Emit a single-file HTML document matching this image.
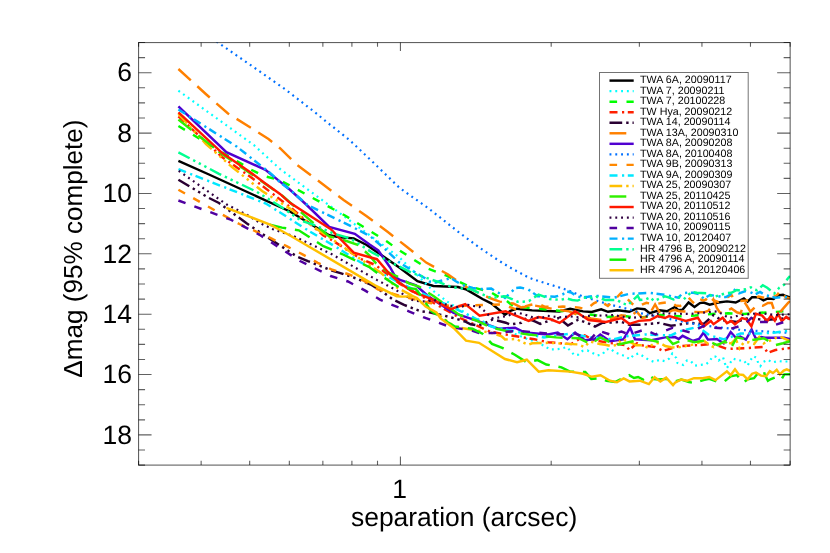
<!DOCTYPE html>
<html><head><meta charset="utf-8"><title>contrast curves</title>
<style>html,body{margin:0;padding:0;background:#fff;}svg{display:block;font-family:"Liberation Sans",sans-serif;will-change:transform;-webkit-font-smoothing:antialiased;}text{text-rendering:geometricPrecision;}</style></head>
<body>
<svg width="830" height="553" viewBox="0 0 830 553">
<rect x="0" y="0" width="830" height="553" fill="#fff"/>
<defs><clipPath id="c"><rect x="138.55" y="42.55" width="651.5999999999999" height="422.55"/></clipPath></defs>
<g clip-path="url(#c)" fill="none" stroke-linejoin="miter" stroke-miterlimit="6" stroke-linecap="butt" stroke-width="2.45">
<path d="M178.4 160.9 L209.0 174.5 L280.0 207.0 L290.0 211.5 L329.2 235.3 L340.0 237.3 L353.7 238.4 L366.7 245.0 L400.0 267.9 L417.5 281.2 L433.4 286.0 L458.0 287.0 L466.6 289.6 L482.5 299.0 L491.2 303.4 L505.0 314.7 L510.4 310.9 L516.9 308.7 L532.1 310.4 L559.2 311.4 L570.1 308.7 L583.1 311.4 L591.7 312.0 L601.2 309.3 L608.0 311.8 L617.7 310.3 L629.3 311.8 L637.0 308.4 L644.7 309.3 L649.7 313.2 L659.3 310.3 L667.0 311.3 L675.0 306.9 L678.3 310.1 L682.6 309.6 L688.6 302.5 L694.5 306.9 L699.9 303.1 L703.7 302.5 L709.7 304.7 L718.4 302.5 L727.0 301.4 L735.7 302.5 L743.9 298.5 L747.6 301.7 L752.1 297.2 L758.4 297.2 L763.5 300.4 L767.9 298.5 L773.6 299.1 L778.0 295.3 L783.0 294.7 L785.6 296.0 L790.0 297.3" stroke="#000000"/>
<path d="M178.4 90.7 L254.0 145.2 L280.0 169.0 L323.4 201.0 L381.2 243.8 L400.0 258.0 L433.4 291.0 L447.8 302.0 L471.0 316.4 L482.5 321.0 L491.4 326.7 L500.0 329.0 L509.0 331.8 L518.0 335.2 L523.4 337.3 L528.3 339.5 L534.3 341.1 L544.6 346.0 L549.5 349.3 L555.4 349.3 L560.8 348.7 L566.8 347.1 L570.6 350.9 L574.4 355.2 L578.2 354.7 L582.5 350.9 L587.4 350.4 L592.5 352.9 L597.6 355.4 L602.7 354.2 L605.8 349.7 L610.3 348.5 L614.7 352.3 L619.7 354.2 L624.8 356.1 L629.9 359.2 L633.7 354.8 L638.7 353.5 L643.8 356.7 L648.9 359.9 L653.9 361.8 L659.6 359.9 L664.7 361.1 L669.1 358.6 L672.3 353.5 L676.3 358.0 L677.5 363.0 L683.2 364.9 L687.0 360.5 L690.8 361.1 L694.6 365.6 L700.3 364.9 L706.0 364.3 L709.8 361.1 L712.3 356.7 L715.5 356.7 L718.7 360.5 L723.1 357.3 L725.0 363.7 L726.9 368.1 L730.1 363.0 L733.2 358.6 L738.2 360.5 L743.9 360.5 L747.6 365.5 L750.2 360.5 L753.3 356.0 L756.5 357.9 L758.4 363.6 L760.3 366.2 L763.5 361.7 L767.9 359.8 L772.3 362.4 L778.0 361.1 L782.4 361.5 L790.0 361.5" stroke="#00ffff" stroke-width="2.2" stroke-dasharray="1.9 3.9"/>
<path d="M178.4 126.0 L215.0 148.0 L251.0 169.6 L264.0 176.0 L280.0 180.2 L345.0 215.5 L387.0 241.5 L395.8 248.0 L427.6 268.5 L445.0 275.0 L468.0 286.0 L475.4 288.0 L483.6 290.2 L491.2 292.4 L500.9 298.3 L506.3 300.5 L512.9 306.0 L530.0 308.0 L562.0 311.0 L575.0 313.0 L594.0 315.0 L606.0 317.0 L625.0 316.0 L637.0 318.0 L660.0 315.0 L680.0 316.3 L695.0 315.5 L712.0 314.0 L728.0 313.3 L744.0 313.9 L760.0 312.8 L790.0 311.0" stroke="#00ff00" stroke-dasharray="7.6 9.4"/>
<path d="M178.4 116.4 L222.0 157.0 L252.0 178.0 L290.0 207.0 L323.4 235.4 L333.5 241.1 L361.0 259.0 L375.4 265.0 L400.0 284.0 L432.0 302.0 L460.0 318.0 L490.0 331.6 L505.5 334.5 L534.5 339.3 L548.0 342.2 L571.2 344.1 L584.8 335.4 L594.4 340.3 L610.0 343.0 L625.4 345.1 L629.3 350.0 L637.0 343.2 L640.0 345.1 L655.0 347.0 L663.2 350.9 L678.7 346.1 L698.0 345.1 L713.5 344.0 L727.0 349.0 L748.3 348.0 L763.8 347.0 L767.7 352.8 L775.4 350.0 L790.0 348.0" stroke="#ff2000" stroke-dasharray="8 4.5 2.2 3.6"/>
<path d="M178.4 179.7 L209.0 198.0 L219.0 203.0 L246.6 223.3 L262.5 234.1 L277.0 243.5 L290.0 252.0 L296.5 256.3 L307.9 261.1 L332.8 270.9 L340.4 273.1 L357.8 279.0 L370.8 284.5 L383.6 292.6 L392.6 299.3 L403.5 304.7 L420.2 311.1 L429.2 312.4 L442.9 315.3 L454.8 318.4 L465.0 321.5 L470.6 324.3 L478.0 325.5 L485.0 323.0 L492.8 319.5 L505.8 322.7 L509.9 324.5 L521.3 322.8 L526.1 318.0 L535.4 321.7 L540.2 323.9 L546.7 321.7 L558.7 318.0 L567.9 325.5 L572.8 322.8 L578.2 319.6 L589.6 323.9 L595.0 326.6 L602.2 322.9 L621.5 321.9 L629.3 324.8 L640.0 324.8 L659.3 322.9 L671.0 325.8 L690.3 322.9 L703.8 323.8 L713.5 315.1 L721.2 320.0 L736.7 321.9 L748.3 318.0 L765.0 320.0 L790.0 318.0" stroke="#2a0033" stroke-dasharray="12.7 4.0 2.4 3.9 2.4 3.9 2.4 4.0"/>
<path d="M178.4 69.0 L206.9 95.0 L228.0 113.5 L248.0 126.0 L268.5 139.0 L280.0 148.2 L297.3 165.0 L343.6 200.0 L366.7 216.2 L387.2 231.5 L406.7 246.7 L426.2 262.6 L447.8 274.2 L465.2 286.5 L489.8 298.0 L499.7 301.6 L513.2 303.5 L521.0 307.4 L534.5 305.5 L553.8 309.0 L569.0 311.4 L574.4 313.6 L582.0 316.0 L591.0 318.5 L606.3 320.7 L614.0 318.0 L621.4 315.2 L630.1 316.9 L636.6 311.4 L642.0 318.0 L647.0 317.0 L650.7 312.0 L655.1 304.4 L659.4 312.0 L669.2 312.0 L672.4 310.4 L675.0 310.1 L679.3 311.2 L688.0 311.7 L703.7 312.3 L708.0 311.0 L710.8 308.0 L713.5 299.8 L716.8 308.0 L719.5 312.0 L722.7 313.4 L731.4 308.5 L736.8 312.3 L740.6 313.4 L744.4 302.0 L747.0 306.0 L750.4 311.7 L757.4 304.7 L762.8 305.8 L768.0 303.0 L771.7 302.9 L774.2 310.5 L779.3 313.0 L788.1 302.9 L790.0 301.0" stroke="#ff8000" stroke-dasharray="16.8 8.8"/>
<path d="M178.4 106.3 L226.4 152.1 L265.4 169.8 L280.0 181.6 L290.0 189.8 L306.7 205.0 L329.2 227.0 L354.8 233.8 L369.6 244.5 L378.3 250.5 L390.0 267.2 L395.7 277.3 L400.0 280.0 L416.0 285.3 L429.0 296.9 L453.6 312.8 L476.7 320.7 L498.4 328.7 L515.0 327.7 L524.8 332.5 L548.0 334.5 L557.7 332.5 L567.4 339.3 L575.1 332.5 L584.8 340.3 L594.4 339.3 L600.3 334.5 L610.0 341.2 L623.5 339.3 L630.2 327.7 L635.0 339.3 L651.6 340.3 L665.0 337.4 L675.0 337.1 L678.8 339.0 L682.6 335.8 L687.7 338.4 L692.7 340.9 L699.0 339.0 L703.5 332.7 L707.9 339.6 L716.8 339.0 L723.7 343.4 L730.7 332.0 L735.8 337.7 L740.2 336.5 L745.9 339.6 L751.6 329.5 L756.0 339.0 L761.1 337.1 L765.0 337.7 L767.9 337.7 L784.3 337.7 L790.5 339.2" stroke="#5000d0"/>
<path d="M178.4 15.0 L218.5 42.9 L257.1 69.6 L285.3 89.4 L317.8 114.5 L322.2 118.4 L349.6 140.1 L370.6 159.9 L399.8 188.1 L428.3 208.2 L442.0 219.0 L460.0 233.2 L478.9 247.2 L499.1 260.8 L510.0 267.5 L528.7 277.6 L534.0 279.6 L567.4 290.0 L583.0 296.7 L607.7 304.0 L630.8 309.7 L641.0 313.3 L700.0 325.0 L742.0 330.0 L790.0 333.0" stroke="#0070ff" stroke-width="2.2" stroke-dasharray="1.9 3.9"/>
<path d="M178.4 189.8 L212.0 208.8 L239.4 224.0 L271.2 238.4 L287.1 246.4 L303.0 254.6 L317.7 262.8 L332.3 269.8 L348.6 274.2 L363.7 280.7 L377.8 289.3 L400.0 296.0 L430.0 303.0 L452.2 306.3 L485.4 304.8 L502.8 304.5 L515.8 309.3 L521.3 307.6 L530.0 305.0 L537.5 303.3 L544.6 306.6 L554.3 307.1 L563.0 306.6 L570.6 307.1 L579.3 307.6 L586.3 309.3 L593.8 303.3 L600.8 300.0 L604.0 303.5 L607.9 306.0 L613.9 300.6 L620.4 293.6 L622.5 291.9 L625.2 296.8 L632.3 303.9 L637.7 306.6 L642.0 304.5 L646.4 302.8 L654.0 304.4 L662.0 303.0 L670.8 301.7 L675.7 305.5 L680.0 306.0 L683.7 303.6 L689.6 298.7 L692.0 301.5 L695.1 304.2 L699.4 298.7 L703.0 300.5 L705.9 299.8 L708.6 294.9 L713.0 300.0 L717.8 302.0 L724.3 299.3 L728.0 297.0 L731.4 294.9 L734.1 299.8 L740.0 301.0 L746.0 300.5 L753.1 299.3 L758.5 296.6 L765.0 298.0 L770.0 299.0 L777.4 294.7 L780.5 290.3 L782.4 294.0 L785.6 297.2 L790.0 298.6" stroke="#ff8800" stroke-dasharray="7.6 9.4"/>
<path d="M178.5 169.2 L255.5 199.5 L265.8 203.5 L287.5 217.2 L303.3 227.5 L319.5 237.3 L335.3 246.5 L360.0 262.0 L400.0 283.0 L430.0 297.0 L459.4 310.6 L479.6 320.7 L491.2 326.5 L544.0 337.4 L571.0 333.5 L590.6 337.4 L613.8 339.3 L625.4 336.4 L644.7 334.5 L671.0 335.4 L678.7 331.6 L698.0 326.7 L709.6 335.4 L723.2 339.3 L732.8 336.4 L740.6 333.5 L760.0 333.5 L775.4 332.5 L790.0 330.6" stroke="#00e8ff" stroke-dasharray="8 4.5 2.2 3.6"/>
<path d="M178.4 114.0 L206.0 144.0 L232.0 167.0 L262.5 191.3 L290.0 208.6 L313.2 226.7 L332.0 239.0 L349.4 251.3 L372.5 267.2 L381.2 273.0 L393.0 284.4 L397.6 288.0 L410.7 294.8 L430.0 308.7 L442.0 317.5 L455.4 327.0 L466.2 328.7 L490.0 332.5 L501.6 336.4 L505.0 339.5 L516.4 339.0 L521.3 341.7 L528.3 344.9 L532.1 343.3 L549.5 342.8 L566.8 343.9 L578.2 344.4 L584.2 347.1 L590.0 341.5 L599.5 344.0 L605.2 344.7 L610.9 346.0 L617.2 344.7 L621.6 339.6 L628.0 340.9 L636.2 345.3 L642.5 345.3 L648.2 347.8 L653.3 344.0 L659.6 342.8 L665.3 346.0 L671.0 347.2 L676.7 347.8 L682.0 346.6 L690.2 345.3 L697.0 343.0 L704.1 340.9 L709.0 344.5 L713.6 347.2 L716.8 345.3 L723.1 342.2 L731.3 343.4 L735.8 339.0 L739.6 348.5 L743.4 342.8 L749.1 342.2 L754.1 344.0 L759.2 337.1 L763.6 343.4 L779.3 336.4 L790.0 341.2" stroke="#ffc000" stroke-dasharray="12.7 4.0 2.4 3.9 2.4 3.9 2.4 4.0"/>
<path d="M178.4 119.6 L222.0 154.0 L252.0 174.5 L282.7 196.0 L309.2 219.4 L328.8 236.2 L345.0 240.5 L358.4 245.1 L369.8 255.9 L375.8 263.0 L388.8 272.7 L396.4 276.0 L409.4 283.6 L419.0 286.5 L433.4 296.1 L459.4 315.0 L476.7 320.7 L491.2 327.5 L509.3 331.6 L528.7 334.5 L555.8 337.4 L579.0 338.3 L590.6 344.1 L600.3 337.4 L615.7 345.1 L633.1 341.2 L645.0 338.8 L659.3 342.2 L667.0 337.4 L672.9 344.1 L684.5 339.3 L694.2 342.2 L705.8 340.3 L717.4 345.1 L725.0 341.2 L731.0 348.0 L736.7 337.4 L750.3 340.3 L763.8 338.3 L775.4 345.1 L783.0 343.2 L790.0 341.2" stroke="#30f000" stroke-dasharray="16.8 8.8"/>
<path d="M178.4 112.3 L222.0 152.8 L252.4 173.8 L264.0 182.6 L280.0 193.9 L290.0 202.8 L327.7 227.2 L330.6 228.9 L353.7 252.7 L376.9 259.2 L390.0 274.5 L400.0 283.0 L411.7 291.1 L433.4 299.8 L450.7 309.1 L465.2 304.1 L479.6 315.7 L505.7 311.3 L507.4 312.2 L528.7 320.9 L538.4 317.1 L550.0 319.0 L559.6 322.9 L575.1 311.3 L588.6 320.0 L606.0 321.9 L621.5 318.0 L629.3 323.8 L639.0 320.9 L650.0 320.0 L657.4 316.1 L665.0 318.0 L669.0 316.1 L675.0 317.7 L685.8 321.0 L697.8 317.7 L703.7 326.4 L710.8 321.0 L713.5 324.2 L722.7 317.7 L727.0 323.1 L731.4 321.0 L735.0 324.4 L742.0 318.1 L746.4 319.4 L751.4 326.3 L755.9 313.7 L762.2 315.6 L767.2 321.3 L771.0 315.6 L774.8 320.6 L778.0 313.7 L781.8 321.3 L786.2 316.9 L790.0 319.6" stroke="#ff1800"/>
<path d="M178.7 170.8 L200.0 185.8 L226.2 204.2 L246.8 214.8 L262.0 224.0 L272.9 229.2 L294.6 236.6 L331.5 254.1 L376.8 279.9 L392.2 288.0 L402.6 293.9 L412.0 299.8 L420.0 301.5 L428.3 301.1 L434.2 299.8 L440.0 303.0 L450.0 305.5 L457.5 307.0 L462.4 306.5 L467.8 304.8 L473.3 305.9 L479.2 306.5 L483.6 310.2 L488.0 314.6 L491.7 318.4 L497.0 317.8 L502.5 316.8 L508.0 315.7 L513.7 313.6 L519.6 313.1 L525.1 314.7 L531.0 316.9 L541.9 318.0 L547.3 315.8 L552.7 316.3 L558.1 317.4 L564.1 316.9 L570.1 316.3 L576.0 317.4 L581.4 316.9 L586.9 315.8 L592.8 315.8 L613.8 315.1 L630.0 318.0 L650.0 316.0 L659.3 313.2 L690.0 314.0 L717.4 311.3 L729.0 318.0 L740.6 315.1 L760.0 313.0 L775.4 315.1 L790.0 314.2" stroke="#300040" stroke-width="2.2" stroke-dasharray="1.9 3.9"/>
<path d="M178.4 200.5 L230.7 219.7 L259.6 234.8 L280.0 248.0 L300.0 261.0 L330.6 276.0 L348.0 281.5 L364.8 290.4 L380.0 299.6 L390.0 304.0 L408.8 311.3 L423.2 317.1 L439.0 322.9 L450.7 327.2 L470.0 330.0 L479.0 333.0 L495.0 333.0 L510.0 331.5 L520.0 331.0 L559.6 334.5 L575.0 333.5 L590.6 339.3 L598.3 330.6 L610.0 334.5 L621.5 331.6 L629.3 334.5 L644.7 329.6 L655.5 334.5 L672.9 327.7 L690.3 332.5 L703.8 325.8 L713.5 327.7 L731.0 328.7 L744.4 324.8 L752.2 317.0 L760.0 321.9 L771.5 321.9 L775.4 324.8 L790.0 320.0" stroke="#5000a0" stroke-dasharray="7.6 9.4"/>
<path d="M178.4 109.5 L236.6 146.5 L271.2 173.8 L280.0 182.3 L290.0 189.8 L307.5 205.0 L353.6 227.5 L370.4 236.4 L385.6 249.5 L399.1 262.4 L413.8 271.6 L425.0 278.3 L429.3 281.5 L436.0 282.5 L440.2 281.0 L446.7 279.3 L451.6 278.3 L455.4 281.0 L461.9 284.8 L472.7 288.0 L480.3 289.1 L491.2 288.6 L498.8 292.9 L505.0 297.9 L511.5 291.9 L515.3 288.1 L520.2 287.6 L527.8 289.2 L532.7 292.5 L537.5 296.3 L544.0 296.3 L554.9 296.8 L562.5 294.6 L566.8 291.4 L571.1 292.5 L577.7 296.8 L583.1 297.3 L588.0 296.8 L595.0 295.7 L613.8 297.7 L629.3 293.8 L650.0 292.9 L665.0 294.8 L678.3 297.7 L682.6 293.3 L688.0 292.5 L693.4 292.8 L699.9 294.4 L703.7 298.7 L710.0 295.0 L720.0 296.5 L726.0 297.1 L732.5 293.3 L734.6 290.0 L739.0 293.3 L745.5 291.1 L750.0 292.0 L755.0 294.4 L760.0 292.0 L765.0 295.0 L775.4 297.7 L790.0 296.8" stroke="#00b0ff" stroke-dasharray="8 4.5 2.2 3.6"/>
<path d="M178.4 152.3 L219.0 173.8 L256.7 191.8 L282.1 207.5 L301.6 221.0 L312.5 224.3 L334.7 234.0 L345.0 236.8 L352.3 239.7 L372.5 252.7 L395.8 264.8 L411.7 272.8 L430.5 279.3 L439.0 282.2 L452.2 287.2 L471.0 289.4 L491.2 298.0 L505.0 296.3 L512.0 299.0 L517.5 301.7 L523.4 301.7 L528.9 301.1 L538.6 294.6 L543.5 296.3 L549.5 299.0 L555.4 299.5 L560.8 299.8 L566.8 298.4 L572.2 300.0 L577.7 300.6 L583.6 297.9 L589.0 297.3 L594.0 298.4 L596.5 296.8 L605.2 300.0 L611.1 300.0 L617.1 300.0 L623.0 303.5 L628.0 305.0 L637.7 295.7 L639.9 300.0 L645.3 299.5 L650.2 297.3 L654.0 301.1 L664.8 296.3 L668.6 297.3 L673.5 299.5 L678.9 297.3 L683.7 299.3 L691.8 291.7 L696.7 292.8 L707.0 293.3 L710.8 295.5 L715.1 296.6 L720.5 294.9 L725.4 293.3 L731.4 292.8 L736.8 290.0 L741.1 290.6 L746.0 289.0 L750.9 287.3 L754.0 289.5 L757.1 290.3 L762.8 285.2 L767.2 287.8 L774.2 293.5 L779.3 287.8 L784.3 284.6 L787.5 278.9 L790.0 276.0" stroke="#00ff90" stroke-dasharray="12.7 4.0 2.4 3.9 2.4 3.9 2.4 4.0"/>
<path d="M269.8 224.7 L282.0 227.6 L298.8 230.3 L323.4 246.2 L342.0 254.0 L369.6 267.2 L378.6 274.0 L393.1 283.5 L399.4 287.6 L415.7 288.9 L421.1 295.7 L429.2 308.4 L432.0 311.5 L447.8 322.2 L455.0 326.5 L472.4 328.7 L482.5 333.7 L492.0 343.9 L502.9 348.2 L514.8 354.7 L526.8 362.3 L537.6 360.1 L546.3 364.5 L561.5 367.3 L570.0 371.6 L585.3 372.0 L591.3 378.9 L600.1 378.2 L606.5 380.8 L615.0 382.0 L622.9 378.2 L629.2 375.1 L634.0 378.0 L638.1 377.0 L643.2 379.5 L649.5 375.7 L654.0 379.0 L658.4 379.5 L666.0 378.9 L675.0 381.5 L681.3 379.5 L688.9 382.0 L695.3 383.3 L699.0 381.5 L703.5 380.1 L709.2 378.9 L716.8 381.4 L723.7 382.0 L730.7 376.3 L737.0 375.1 L740.0 379.0 L743.2 382.6 L747.6 379.4 L754.0 378.2 L759.0 371.8 L763.5 369.9 L764.7 374.4 L767.9 380.7 L771.0 379.0 L774.8 377.5 L779.3 376.3 L781.8 378.8 L784.3 374.4 L790.0 374.2" stroke="#10f000" stroke-dasharray="16.8 8.8"/>
<path d="M226.4 207.8 L270.0 224.5 L290.0 235.5 L375.0 285.3 L396.7 296.2 L402.1 296.6 L412.9 296.2 L417.0 298.0 L425.6 306.6 L436.4 312.5 L440.6 318.5 L453.6 328.0 L466.0 340.6 L479.0 342.8 L505.0 359.0 L517.0 362.3 L526.8 359.7 L538.7 371.6 L548.4 370.3 L570.1 371.6 L583.1 373.8 L591.8 376.8 L600.5 375.3 L610.0 380.7 L616.9 382.3 L623.7 378.4 L629.5 381.4 L639.8 380.7 L648.9 384.1 L654.6 377.2 L660.4 381.4 L666.1 377.7 L673.0 385.2 L675.0 382.7 L681.3 379.5 L687.0 380.8 L694.0 378.2 L702.8 378.2 L709.2 377.0 L715.5 380.1 L726.9 371.3 L730.7 375.1 L735.0 369.3 L738.8 374.4 L743.2 375.0 L747.6 379.4 L752.1 373.7 L755.9 372.5 L760.9 375.6 L766.0 376.3 L769.8 371.2 L772.9 373.1 L776.7 369.9 L779.9 374.4 L783.7 370.6 L786.8 369.3 L790.0 370.8" stroke="#ffc000"/>
</g>
<g stroke="#000" stroke-opacity="0.62" stroke-width="1.1" fill="none">
<rect x="138.55" y="42.55" width="651.5999999999999" height="422.55"/>
<path d="M138.57 465.1 V460.80 M138.57 42.55 V46.85"/>
<path d="M201.14 465.1 V460.80 M201.14 42.55 V46.85"/>
<path d="M249.67 465.1 V460.80 M249.67 42.55 V46.85"/>
<path d="M289.33 465.1 V460.80 M289.33 42.55 V46.85"/>
<path d="M322.86 465.1 V460.80 M322.86 42.55 V46.85"/>
<path d="M351.90 465.1 V460.80 M351.90 42.55 V46.85"/>
<path d="M377.51 465.1 V460.80 M377.51 42.55 V46.85"/>
<path d="M400.43 465.1 V456.60 M400.43 42.55 V51.05"/>
<path d="M551.19 465.1 V460.80 M551.19 42.55 V46.85"/>
<path d="M639.37 465.1 V460.80 M639.37 42.55 V46.85"/>
<path d="M701.94 465.1 V460.80 M701.94 42.55 V46.85"/>
<path d="M750.47 465.1 V460.80 M750.47 42.55 V46.85"/>
<path d="M790.13 465.1 V460.80 M790.13 42.55 V46.85"/>
<path d="M138.55 42.55 H145.05 M790.15 42.55 H783.65"/>
<path d="M138.55 57.64 H145.05 M790.15 57.64 H783.65"/>
<path d="M138.55 72.73 H151.55 M790.15 72.73 H777.15"/>
<path d="M138.55 87.82 H145.05 M790.15 87.82 H783.65"/>
<path d="M138.55 102.91 H145.05 M790.15 102.91 H783.65"/>
<path d="M138.55 118.01 H145.05 M790.15 118.01 H783.65"/>
<path d="M138.55 133.10 H151.55 M790.15 133.10 H777.15"/>
<path d="M138.55 148.19 H145.05 M790.15 148.19 H783.65"/>
<path d="M138.55 163.28 H145.05 M790.15 163.28 H783.65"/>
<path d="M138.55 178.37 H145.05 M790.15 178.37 H783.65"/>
<path d="M138.55 193.46 H151.55 M790.15 193.46 H777.15"/>
<path d="M138.55 208.55 H145.05 M790.15 208.55 H783.65"/>
<path d="M138.55 223.64 H145.05 M790.15 223.64 H783.65"/>
<path d="M138.55 238.73 H145.05 M790.15 238.73 H783.65"/>
<path d="M138.55 253.82 H151.55 M790.15 253.82 H777.15"/>
<path d="M138.55 268.92 H145.05 M790.15 268.92 H783.65"/>
<path d="M138.55 284.01 H145.05 M790.15 284.01 H783.65"/>
<path d="M138.55 299.10 H145.05 M790.15 299.10 H783.65"/>
<path d="M138.55 314.19 H151.55 M790.15 314.19 H777.15"/>
<path d="M138.55 329.28 H145.05 M790.15 329.28 H783.65"/>
<path d="M138.55 344.37 H145.05 M790.15 344.37 H783.65"/>
<path d="M138.55 359.46 H145.05 M790.15 359.46 H783.65"/>
<path d="M138.55 374.55 H151.55 M790.15 374.55 H777.15"/>
<path d="M138.55 389.64 H145.05 M790.15 389.64 H783.65"/>
<path d="M138.55 404.74 H145.05 M790.15 404.74 H783.65"/>
<path d="M138.55 419.83 H145.05 M790.15 419.83 H783.65"/>
<path d="M138.55 434.92 H151.55 M790.15 434.92 H777.15"/>
<path d="M138.55 450.01 H145.05 M790.15 450.01 H783.65"/>
<path d="M138.55 465.10 H145.05 M790.15 465.10 H783.65"/>
</g>
<g fill="#000" font-size="26.5px">
<text x="132" y="81.48" text-anchor="end">6</text>
<text x="132" y="141.85" text-anchor="end">8</text>
<text x="132" y="202.21" text-anchor="end">10</text>
<text x="132" y="262.57" text-anchor="end">12</text>
<text x="132" y="322.94" text-anchor="end">14</text>
<text x="132" y="383.30" text-anchor="end">16</text>
<text x="132" y="443.67" text-anchor="end">18</text>
<text x="399.63" y="497.6" text-anchor="middle">1</text>
</g>
<text x="464.1" y="526.3" text-anchor="middle" font-size="26.45px" fill="#000">separation (arcsec)</text>
<text transform="translate(82 248.6) rotate(-90)" text-anchor="middle" font-size="26.1px" fill="#000">&#916;mag (95% complete)</text>
<rect x="599.5" y="72.5" width="148.70000000000005" height="205.8" fill="#fff" stroke="#000" stroke-opacity="0.55" stroke-width="1"/>
<g fill="none" stroke-width="2.45" stroke-linecap="butt">
<path d="M609.5 80.60 H633.7" stroke="#000000"/>
<path d="M609.5 91.13 H633.7" stroke="#00ffff" stroke-width="2.2" stroke-dasharray="1.9 3.9"/>
<path d="M609.5 101.67 H633.7" stroke="#00ff00" stroke-dasharray="7.6 9.4"/>
<path d="M609.5 112.20 H633.7" stroke="#ff2000" stroke-dasharray="8 4.5 2.2 3.6"/>
<path d="M609.5 122.74 H633.7" stroke="#2a0033" stroke-dasharray="12.7 4.0 2.4 3.9 2.4 3.9 2.4 4.0"/>
<path d="M609.5 133.27 H633.7" stroke="#ff8000" stroke-dasharray="16.8 8.8"/>
<path d="M609.5 143.81 H633.7" stroke="#5000d0"/>
<path d="M609.5 154.34 H633.7" stroke="#0070ff" stroke-width="2.2" stroke-dasharray="1.9 3.9"/>
<path d="M609.5 164.88 H633.7" stroke="#ff8800" stroke-dasharray="7.6 9.4"/>
<path d="M609.5 175.41 H633.7" stroke="#00e8ff" stroke-dasharray="8 4.5 2.2 3.6"/>
<path d="M609.5 185.95 H633.7" stroke="#ffc000" stroke-dasharray="12.7 4.0 2.4 3.9 2.4 3.9 2.4 4.0"/>
<path d="M609.5 196.49 H633.7" stroke="#30f000" stroke-dasharray="16.8 8.8"/>
<path d="M609.5 207.02 H633.7" stroke="#ff1800"/>
<path d="M609.5 217.56 H633.7" stroke="#300040" stroke-width="2.2" stroke-dasharray="1.9 3.9"/>
<path d="M609.5 228.09 H633.7" stroke="#5000a0" stroke-dasharray="7.6 9.4"/>
<path d="M609.5 238.62 H633.7" stroke="#00b0ff" stroke-dasharray="8 4.5 2.2 3.6"/>
<path d="M609.5 249.16 H633.7" stroke="#00ff90" stroke-dasharray="12.7 4.0 2.4 3.9 2.4 3.9 2.4 4.0"/>
<path d="M609.5 259.69 H633.7" stroke="#10f000" stroke-dasharray="16.8 8.8"/>
<path d="M609.5 270.23 H633.7" stroke="#ffc000"/>
</g>
<g fill="#000" font-size="10.7px" text-rendering="geometricPrecision">
<text x="640.1" y="83.00">TWA 6A, 20090117</text>
<text x="640.1" y="93.53">TWA 7, 20090211</text>
<text x="640.1" y="104.07">TWA 7, 20100228</text>
<text x="640.1" y="114.61">TW Hya, 20090212</text>
<text x="640.1" y="125.14">TWA 14, 20090114</text>
<text x="640.1" y="135.67">TWA 13A, 20090310</text>
<text x="640.1" y="146.21">TWA 8A, 20090208</text>
<text x="640.1" y="156.75">TWA 8A, 20100408</text>
<text x="640.1" y="167.28">TWA 9B, 20090313</text>
<text x="640.1" y="177.81">TWA 9A, 20090309</text>
<text x="640.1" y="188.35">TWA 25, 20090307</text>
<text x="640.1" y="198.89">TWA 25, 20110425</text>
<text x="640.1" y="209.42">TWA 20, 20110512</text>
<text x="640.1" y="219.96">TWA 20, 20110516</text>
<text x="640.1" y="230.49">TWA 10, 20090115</text>
<text x="640.1" y="241.03">TWA 10, 20120407</text>
<text x="640.1" y="251.56">HR 4796 B, 20090212</text>
<text x="640.1" y="262.09">HR 4796 A, 20090114</text>
<text x="640.1" y="272.63">HR 4796 A, 20120406</text>
</g>
</svg>
</body></html>
